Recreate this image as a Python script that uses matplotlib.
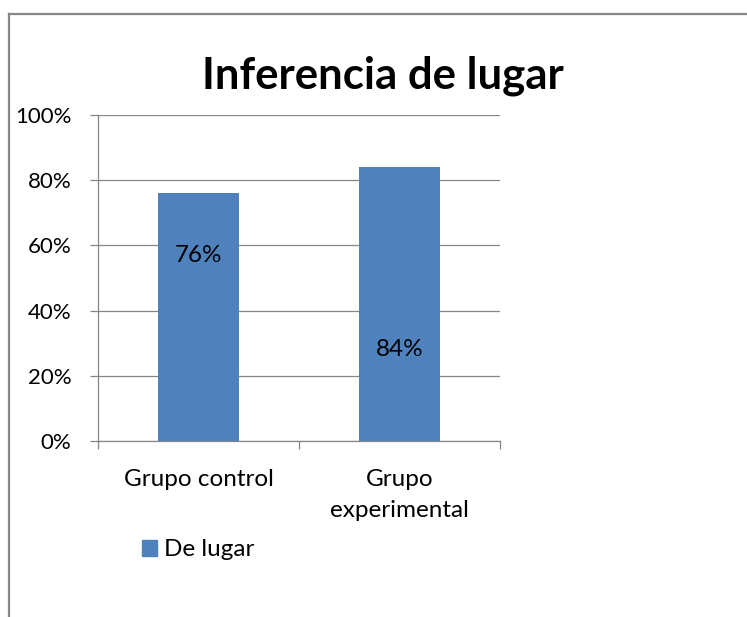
import matplotlib
matplotlib.use('Agg')
from matplotlib import pyplot as plt
from matplotlib.lines import Line2D
import matplotlib.ticker as ticker

# data
categories = ["Grupo control", "Grupo\nexperimental"]
values = [0.76, 0.84]
value_labels = ["76%", "84%"]
series_name = "De lugar"
title = "Inferencia de lugar"

# where excel put the data labels (fraction of axis height)
label_pos = [0.57, 0.28]

BAR = '#4F81BD'
GRID = '#868686'

plt.rcParams['font.family'] = ['Lato', 'DejaVu Sans']

W, H = 747, 617
fig = plt.figure(figsize=(W / 100, H / 100), dpi=100)

# chart area border (left + top)
fig.add_artist(Line2D([9 / W, 9 / W], [0, 1 - 13.5 / H], color='#878787', lw=1.6))
fig.add_artist(Line2D([9 / W, 1], [1 - 13.5 / H, 1 - 13.5 / H], color='#878787', lw=1.6))

ax = fig.add_axes([98 / W, 1 - 441 / H, (500 - 98) / W, (441 - 115) / H])

x = list(range(len(categories)))
ax.bar(x, values, width=0.4, color=BAR, zorder=3)
for xi, lab, yp in zip(x, value_labels, label_pos):
    ax.text(xi, yp, lab, ha='center', va='center', fontsize=17.5, color='black', zorder=4)

ax.set_xlim(-0.5, len(categories) - 0.5)
ax.set_ylim(0, 1)
ax.yaxis.set_major_locator(ticker.MultipleLocator(0.2))
ax.yaxis.set_major_formatter(ticker.PercentFormatter(1.0, decimals=0))
ax.grid(axis='y', color=GRID, lw=0.9, zorder=0)

ax.set_xticks([i - 0.5 for i in range(len(categories) + 1)])
ax.set_xticklabels([])
ax.set_xticks(x, minor=True)
ax.set_xticklabels(categories, minor=True, fontsize=17.5, linespacing=1.6)
ax.tick_params(axis='x', which='minor', length=0, pad=20)
ax.tick_params(axis='x', which='major', length=6, color=GRID, width=0.9)
ax.tick_params(axis='y', length=6, color=GRID, width=0.9, labelsize=16, pad=13)

for s in ['top', 'right']:
    ax.spines[s].set_visible(False)
for s in ['left', 'bottom']:
    ax.spines[s].set_color(GRID)
    ax.spines[s].set_linewidth(0.9)

fig.text(383 / W, 1 - 89 / H, title, ha='center', va='baseline',
         fontsize=31.5, fontweight='bold')

handle = plt.Rectangle((0, 0), 1, 1, color=BAR)
fig.legend([handle], [series_name], loc='center left',
           bbox_to_anchor=(142 / W, 1 - 550 / H), frameon=False, fontsize=17.5,
           handlelength=0.62, handleheight=0.62, handletextpad=0.3,
           borderpad=0, borderaxespad=0)

fig.savefig('out.png', dpi=100)
